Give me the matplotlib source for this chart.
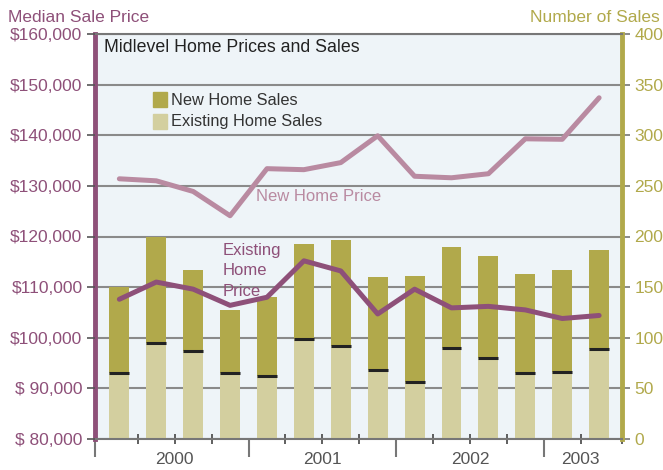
import numpy as np
import matplotlib.pyplot as plt
from matplotlib.ticker import FuncFormatter
import matplotlib.transforms as mtransforms

plt.rcParams['font.family'] = ['Liberation Sans', 'DejaVu Sans']

# Datos por trimestre (2000 T1 ... 2003 T2)
quarters = np.arange(14)
existing_sales = [65, 95, 87, 65, 62, 99, 92, 68, 56, 90, 80, 65, 66, 89]
total_sales = [150, 200, 167, 127, 140, 193, 197, 160, 161, 190, 181, 163, 167, 187]
new_sales = [t - e for t, e in zip(total_sales, existing_sales)]

existing_price = [107600, 111000, 109600, 106400, 108000, 115200, 113200,
                  104700, 109600, 105900, 106200, 105500, 103800, 104400]
new_price = [131400, 131000, 128900, 124100, 133400, 133200, 134600,
             139900, 131900, 131600, 132400, 139300, 139200, 147400]

years = ['2000', '2001', '2002', '2003']
year_centers = [1.5, 5.5, 9.5, 12.5]

c_new = '#b1a94b'
c_exist = '#d3cf9f'
c_eprice = '#8e5079'
c_nprice = '#b98aa1'
c_grid = '#8a8a8a'
c_bg = '#eef4f8'

fig = plt.figure(figsize=(6.63, 4.70), dpi=100)
ax = fig.add_axes([95/663, 1-439/470, (622-95)/663, (439-34)/470])
ax.set_facecolor(c_bg)

w = 0.54
ax.bar(quarters, existing_sales, w, color=c_exist, zorder=2)
ax.bar(quarters, new_sales, w, bottom=existing_sales, color=c_new, zorder=2)
ax.hlines(existing_sales, quarters - w/2, quarters + w/2, color='#222222', lw=2.2, zorder=3)

xmin, xmax = -0.66, 13.62
ax.set_xlim(xmin, xmax)
ax.set_ylim(0, 400)
ax.set_yticks(np.arange(0, 401, 50))
ax.grid(axis='y', color=c_grid, lw=1.5, zorder=1)
ax.set_axisbelow(True)

# eje x: marcas menores entre trimestres, mayores entre anos
ax.set_xticks([xmin, 3.5, 7.5, 11.5])
ax.set_xticks([0.5, 1.5, 2.5, 4.5, 5.5, 6.5, 8.5, 9.5, 10.5, 12.5, xmax], minor=True)
ax.set_xticklabels([])
ax.tick_params(axis='x', which='major', direction='out', length=13, width=1.5, colors='#777777')
ax.tick_params(axis='x', which='minor', direction='inout', length=7, width=1.2, colors='#444444')
trans = mtransforms.blended_transform_factory(ax.transData, ax.transAxes)
for yr, xc in zip(years, year_centers):
    ax.text(xc, -0.05, yr, transform=trans, ha='center', va='center', fontsize=12.5, color='#555555')

ax.spines['left'].set_color(c_eprice)
ax.spines['left'].set_linewidth(3.5)
ax.spines['right'].set_color(c_new)
ax.spines['right'].set_linewidth(3.5)
ax.spines['top'].set_color('#777777')
ax.spines['top'].set_linewidth(1.5)
ax.spines['bottom'].set_color('#777777')
ax.spines['bottom'].set_linewidth(1.5)

# precios en el eje izquierdo
ax2 = ax.twinx()
ax.yaxis.tick_right()
ax2.yaxis.tick_left()
ax.tick_params(axis='y', colors='#777777', labelcolor=c_new, labelsize=12.5, length=6, width=1.2, pad=3)
ax2.set_ylim(80000, 160000)
ax2.set_yticks(np.arange(80000, 160001, 10000))
ax2.yaxis.set_major_formatter(FuncFormatter(
    lambda v, p: '${:,.0f}'.format(v) if v >= 100000 else '$ {:,.0f}'.format(v)))
ax2.tick_params(axis='y', colors='#555555', labelcolor=c_eprice, labelsize=12.5, length=6, width=1.2, pad=3)
for s in ax2.spines.values():
    s.set_visible(False)
ax2.plot(quarters, new_price, color=c_nprice, lw=3.6, solid_capstyle='round', zorder=4)
ax2.plot(quarters, existing_price, color=c_eprice, lw=3.6, solid_capstyle='round', zorder=4)

ax2.text(3.7, 127900, 'New Home Price', color=c_nprice, fontsize=12, va='center', ha='left')
ax2.text(2.81, 113200, 'Existing\nHome\nPrice', color=c_eprice, fontsize=12, va='center', ha='left',
         linespacing=1.45, zorder=3)

# leyenda
ax2.add_patch(plt.Rectangle((0.92, 145580), 0.38, 2960, color=c_new, zorder=5))
ax2.add_patch(plt.Rectangle((0.92, 141230), 0.38, 2960, color=c_exist, zorder=5))
ax2.text(1.4, 146960, 'New Home Sales', fontsize=11.8, color='#333333', va='center')
ax2.text(1.4, 142620, 'Existing Home Sales', fontsize=11.8, color='#333333', va='center')

fig.text(104/663, 1-48/470, 'Midlevel Home Prices and Sales', fontsize=12.8, color='#222222', va='center')
fig.text(8/663, 1-17/470, 'Median Sale Price', fontsize=12.5, color=c_eprice, va='center')
fig.text(660/663, 1-17/470, 'Number of Sales', fontsize=12.5, color=c_new, va='center', ha='right')

fig.savefig('out.png', dpi=100)
